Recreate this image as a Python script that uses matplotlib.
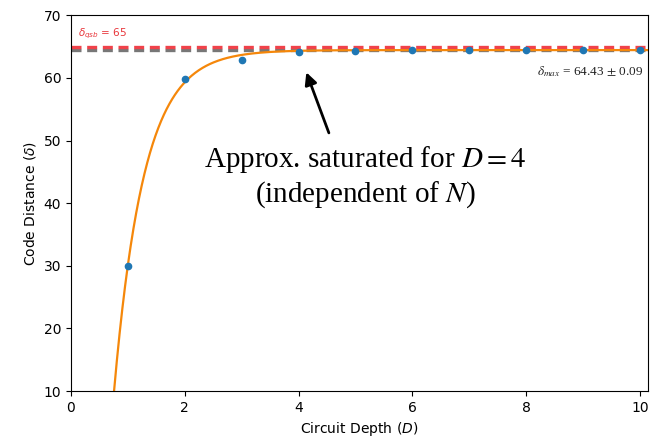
import numpy as np
import matplotlib
matplotlib.use("Agg")
import matplotlib.pyplot as plt

# Data
depth = [1, 2, 3, 4, 5, 6, 7, 8, 9, 10]
distance = [30.0, 59.8, 62.9, 64.05, 64.35, 64.45, 64.45, 64.5, 64.45, 64.5]
delta_qsb = 65
delta_max = 64.43
# fit parameters: delta(D) = a - b*exp(-c*D)
fit_a, fit_b, fit_c = 64.43, 230.2, 1.9

fig = plt.figure(figsize=(6.5, 4.47), dpi=100)
ax = fig.add_axes([0.109, 0.125, 0.888, 0.841])

xs = np.linspace(0.5, 10.2, 600)
ax.plot(xs, fit_a - fit_b * np.exp(-fit_c * xs), color='#f5870a', lw=1.6, zorder=2)
ax.axhline(delta_max, color='#777777', lw=2.4, ls=(0, (3, 1.7)), zorder=1)
ax.axhline(delta_qsb, color='#f0424a', lw=2.4, ls=(0, (3, 1.7)), zorder=1)
ax.plot(depth, distance, 'o', color='#1f77b4', ms=4.5, zorder=3)

ax.set_xlim(0, 10.14)
ax.set_ylim(10, 70)
ax.set_xticks([0, 2, 4, 6, 8, 10])
ax.set_yticks([10, 20, 30, 40, 50, 60, 70])
ax.tick_params(labelsize=10)
ax.set_xlabel('Circuit Depth ($D$)', fontsize=10)
ax.set_ylabel('Code Distance ($\\delta$)', fontsize=10)

ax.text(0.12, 66.6, '$\\delta_{qsb}$ = 65', color='#e8353a', fontsize=7.5)
ax.text(10.05, 61.0, '$\\delta_{max}$ = 64.43 $\\pm$ 0.09', color='#222222',
        fontsize=9.5, ha='right', va='center', math_fontfamily='stix', family='Liberation Serif')

ax.annotate('', xy=(4.12, 61.3), xytext=(4.55, 50.8),
            arrowprops=dict(arrowstyle='-|>', color='black', lw=2, mutation_scale=18))
ax.text(5.17, 44.2, 'Approx. saturated for $D = 4$\n(independent of $N$)',
        ha='center', va='center', fontsize=21, family='Liberation Serif',
        math_fontfamily='stix', linespacing=1.2)

fig.savefig('out.png', dpi=100)
